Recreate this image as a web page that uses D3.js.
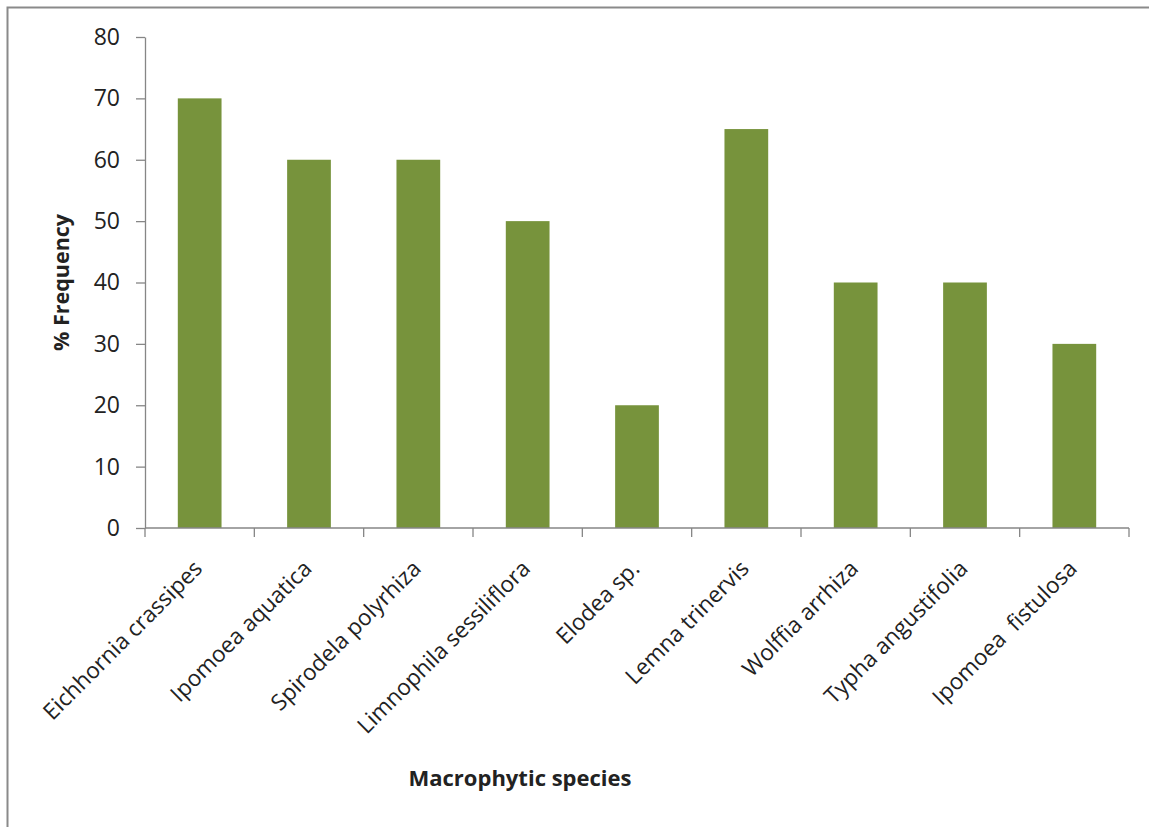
<!DOCTYPE html>
<html>
<head>
<meta charset="utf-8">
<script src="https://cdn.jsdelivr.net/npm/d3@7"></script>
<style>
  html, body { margin: 0; padding: 0; background: #fff; }
  svg { display: block; }
  text { font-family: "Open Sans", "Liberation Sans", sans-serif; fill: #222; }
</style>
</head>
<body>
<svg id="chart" width="1149" height="827"></svg>
<script>
// Species surveyed and their percentage frequency
const species = [
  "Eichhornia crassipes",
  "Ipomoea aquatica",
  "Spirodela polyrhiza",
  "Limnophila sessiliflora",
  "Elodea sp.",
  "Lemna trinervis",
  "Wolffia arrhiza",
  "Typha angustifolia",
  "Ipomoea  fistulosa"
];
const frequency = [70, 60, 60, 50, 20, 65, 40, 40, 30];
const yTicks = [0, 10, 20, 30, 40, 50, 60, 70, 80];

const svg = d3.select("#chart");
const W = 1149, H = 827;
const plot = { left: 145, right: 1129, top: 37, bottom: 528 };

// Outer frame (only its top and left edges fall inside the page)
svg.append("rect")
  .attr("x", 7.5).attr("y", 7.5)
  .attr("width", W + 20).attr("height", H + 20)
  .attr("fill", "#fff")
  .attr("stroke", "#8a8a8a")
  .attr("stroke-width", 2);

const x = d3.scaleBand()
  .domain(species)
  .range([plot.left, plot.right])
  .paddingInner(0.6)
  .paddingOuter(0.3);

const y = d3.scaleLinear()
  .domain([0, 80])
  .range([plot.bottom, plot.top]);

// Bars
svg.append("g")
  .selectAll("rect")
  .data(species)
  .join("rect")
  .attr("x", d => x(d))
  .attr("y", (d, i) => y(frequency[i]))
  .attr("width", x.bandwidth())
  .attr("height", (d, i) => y(0) - y(frequency[i]))
  .attr("fill", "#77933c");

// Y axis
const yAxis = svg.append("g")
  .attr("transform", `translate(${plot.left},0)`)
  .call(d3.axisLeft(y).tickValues(yTicks).tickSize(9).tickPadding(16).tickSizeOuter(0));
yAxis.select(".domain").attr("stroke", "#868686").attr("stroke-width", 1.3);
yAxis.selectAll(".tick line").attr("stroke", "#868686").attr("stroke-width", 1.3);
yAxis.selectAll(".tick text")
  .style("font-size", "23px")
  .style("font-family", "'Open Sans', sans-serif")
  .attr("fill", "#222");

// X axis: baseline with tick marks on category boundaries
const xAxis = svg.append("g")
  .attr("transform", `translate(0,${plot.bottom})`);
xAxis.append("line")
  .attr("x1", plot.left).attr("x2", plot.right)
  .attr("stroke", "#868686").attr("stroke-width", 1.3);
const step = x.step();
const boundaries = d3.range(species.length + 1).map(i => plot.left + i * step);
xAxis.selectAll("line.tick")
  .data(boundaries)
  .join("line")
  .attr("class", "tick")
  .attr("x1", d => d).attr("x2", d => d)
  .attr("y1", 0).attr("y2", 9)
  .attr("stroke", "#868686").attr("stroke-width", 1.3);

// Rotated category labels
xAxis.selectAll("text.cat")
  .data(species)
  .join("text")
  .attr("class", "cat")
  .attr("text-anchor", "end")
  .style("white-space", "pre")
  .attr("transform", d => `translate(${x(d) + x.bandwidth() / 2 + 4},${42}) rotate(-45)`)
  .style("font-size", "22.5px")
  .text(d => d);

// Axis titles
svg.append("text")
  .attr("transform", `translate(69,${(plot.top + plot.bottom) / 2}) rotate(-90)`)
  .attr("text-anchor", "middle")
  .style("font-size", "21.5px")
  .style("font-weight", "bold")
  .text("% Frequency");

svg.append("text")
  .attr("x", 520).attr("y", 786)
  .attr("text-anchor", "middle")
  .style("font-size", "22px")
  .style("font-weight", "bold")
  .text("Macrophytic species");
</script>
</body>
</html>
